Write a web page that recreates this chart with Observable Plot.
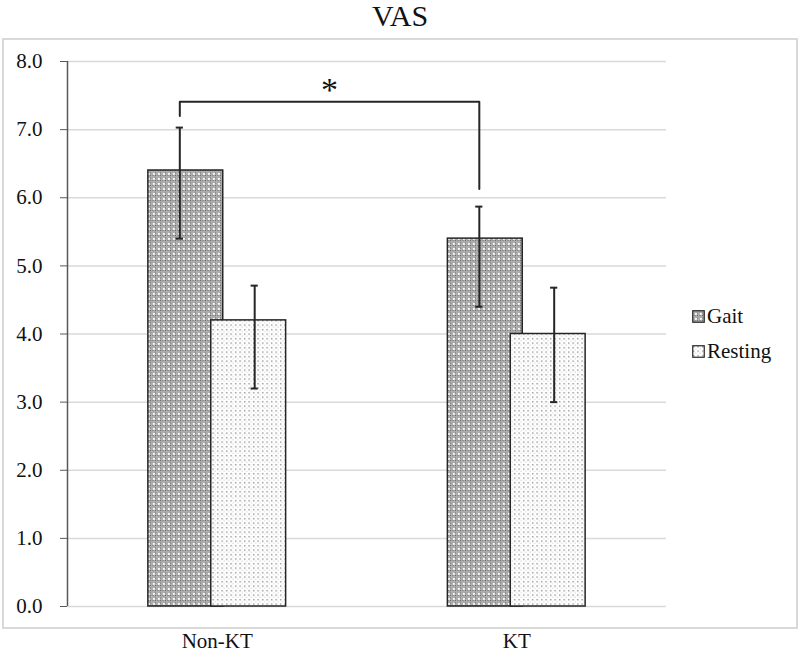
<!DOCTYPE html>
<html><head><meta charset="utf-8">
<script src="https://cdn.jsdelivr.net/npm/d3@7"></script>
<script src="https://cdn.jsdelivr.net/npm/@observablehq/plot@0.6"></script>
<style>
body{margin:0;background:#fff;font-family:"Liberation Serif","Times New Roman",Times,"DejaVu Serif",serif;}
#wrap{position:relative;width:800px;height:658px;overflow:hidden}
#title{position:absolute;left:0;top:0;width:800px;text-align:center;font-size:30px;line-height:32px;color:#111}
#box{position:absolute;left:2px;top:38px;width:792px;height:587px;border:2px solid #d9d9d9;pointer-events:none}
#chart{position:absolute;left:0;top:40px}
#legend{position:absolute;left:692px;top:303px;font-size:21px;color:#111}
.item{display:flex;align-items:center;height:26px;margin-bottom:9px}
.item svg{margin-right:2px}
</style></head>
<body>
<div id="wrap"><div id="title">VAS</div><div id="chart"></div><div id="box"></div><div id="legend"></div></div>
<script>
// ---- data ----
const categories = ["Non-KT", "KT"];
const series = ["Gait", "Resting"];
const gaitMean = [6.4, 5.4];
const gaitLow = [5.4, 4.4];
const gaitHigh = [7.03, 5.87];
const restMean = [4.2, 4.0];
const restLow = [3.2, 3.0];
const restHigh = [4.71, 4.68];
const yTicks = [0, 1, 2, 3, 4, 5, 6, 7, 8];
const sigLabel = ["*"];
const sigLevels = [7.2, 7.41, 6.13]; // left leg end, bracket top, right leg end
const sigStarY = [7.58];

// ---- layout (in band units of the x scale) ----
const HALF = 0.23, OV = 0.02, CAP = 0.012;
const gaitX = i => i + 0.5 - (HALF - OV) / 2 - OV;
const restX = i => i + 0.5 + (HALF - OV) / 2 + OV;
const FONT = "'Liberation Serif', 'Times New Roman', Times, 'DejaVu Serif', serif";

const rows = categories.map((cat, i) => ({
  cat, i,
  gMean: gaitMean[i], gLow: gaitLow[i], gHigh: gaitHigh[i],
  rMean: restMean[i], rLow: restLow[i], rHigh: restHigh[i]
}));
const bracket = [
  {x: gaitX(0), y: sigLevels[0]},
  {x: gaitX(0), y: sigLevels[1]},
  {x: gaitX(1), y: sigLevels[1]},
  {x: gaitX(1), y: sigLevels[2]}
];
const ink = "#262626";

const chart = Plot.plot({
  width: 800, height: 618,
  marginLeft: 67, marginRight: 134, marginTop: 21, marginBottom: 52,
  style: {fontFamily: FONT, fontSize: "21px", color: "#111", background: "transparent", overflow: "visible"},
  x: {domain: [0, categories.length], axis: null},
  y: {domain: [0, 8], axis: null},
  marks: [
    Plot.gridY(yTicks, {stroke: "#d9d9d9", strokeOpacity: 1, strokeWidth: 1.5}),
    Plot.ruleX([0], {y1: 0, y2: 8, stroke: "#595959", strokeWidth: 1.5}),
    Plot.axisY({ticks: yTicks, tickFormat: d3.format(".1f"), tickSize: 7, tickPadding: 18, stroke: "#595959", fill: "#111"}),
    // Gait bars + error bars
    Plot.rectY(rows, {x1: d => d.i + 0.5 - HALF, x2: d => d.i + 0.5 + OV, y: "gMean", fill: "url(#pGait)", stroke: ink, strokeWidth: 1.5, inset: 0}),
    Plot.ruleX(rows, {x: d => gaitX(d.i), y1: "gLow", y2: "gHigh", stroke: ink, strokeWidth: 2}),
    Plot.ruleY(rows, {y: "gHigh", x1: d => gaitX(d.i) - CAP, x2: d => gaitX(d.i) + CAP, stroke: ink, strokeWidth: 2}),
    Plot.ruleY(rows, {y: "gLow", x1: d => gaitX(d.i) - CAP, x2: d => gaitX(d.i) + CAP, stroke: ink, strokeWidth: 2}),
    // Resting bars + error bars
    Plot.rectY(rows, {x1: d => d.i + 0.5 - OV, x2: d => d.i + 0.5 + HALF, y: "rMean", fill: "url(#pRest)", stroke: ink, strokeWidth: 1.5, inset: 0}),
    Plot.ruleX(rows, {x: d => restX(d.i), y1: "rLow", y2: "rHigh", stroke: ink, strokeWidth: 2}),
    Plot.ruleY(rows, {y: "rHigh", x1: d => restX(d.i) - CAP, x2: d => restX(d.i) + CAP, stroke: ink, strokeWidth: 2}),
    Plot.ruleY(rows, {y: "rLow", x1: d => restX(d.i) - CAP, x2: d => restX(d.i) + CAP, stroke: ink, strokeWidth: 2}),
    // significance bracket
    Plot.line(bracket, {x: "x", y: "y", stroke: ink, strokeWidth: 2, curve: "linear"}),
    Plot.text(sigLabel, {x: (gaitX(0) + gaitX(1)) / 2, y: sigStarY[0], text: d => d, fontSize: 34, fill: "#111", lineAnchor: "middle"}),
    // category labels
    Plot.text(rows, {x: d => d.i + 0.5, text: "cat", frameAnchor: "bottom", dy: 35, lineAnchor: "middle", fontSize: 21, fill: "#111"})
  ]
});

const svgNS = "http://www.w3.org/2000/svg";
const svg = chart.tagName.toLowerCase() === "svg" ? chart : chart.querySelector("svg");
const defs = document.createElementNS(svgNS, "defs");
defs.innerHTML = `
<pattern id="pGait" width="5" height="5" patternUnits="userSpaceOnUse">
  <rect width="5" height="5" fill="#adadad"/>
  <rect x="0" y="0" width="1" height="1" fill="#6a6a6a"/>
  <rect x="2.5" y="0" width="1" height="1" fill="#747474"/>
  <rect x="0" y="2.5" width="1" height="1" fill="#747474"/>
  <rect x="3" y="3" width="1.8" height="1.8" fill="#ffffff"/>
</pattern>
<pattern id="pRest" width="4.5" height="4.5" patternUnits="userSpaceOnUse">
  <rect width="4.5" height="4.5" fill="#ffffff"/>
  <rect x="1" y="1" width="1.3" height="1.3" fill="#7e7e7e"/>
  <rect x="3.2" y="3.2" width="1" height="1" fill="#c4c4c4"/>
</pattern>`;
svg.insertBefore(defs, svg.firstChild);
document.getElementById("chart").appendChild(chart);

// legend
const fills = ["url(#pGait)", "url(#pRest)"];
const legend = document.getElementById("legend");
series.forEach((s, k) => {
  const item = document.createElement("div");
  item.className = "item";
  item.innerHTML = `<svg width="13" height="13"><rect x="0.75" y="0.75" width="11.5" height="11.5" fill="${fills[k]}" stroke="${ink}" stroke-width="1.2"/></svg><span>${s}</span>`;
  legend.appendChild(item);
});
</script>
</body></html>
